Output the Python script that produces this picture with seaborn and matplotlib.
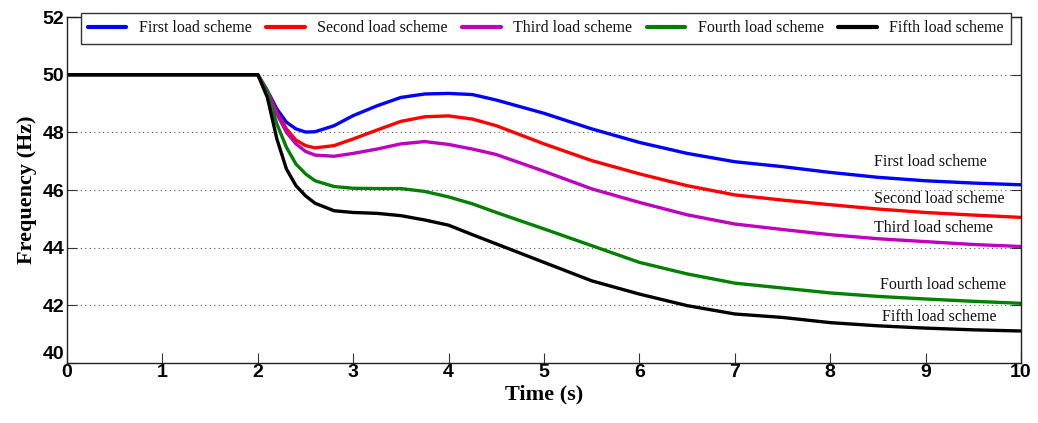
import numpy as np
import pandas as pd
import matplotlib
matplotlib.use("Agg")
import matplotlib.pyplot as plt
import seaborn as sns

# ---- data ----
time_s = [0.0, 2.0, 2.1, 2.2, 2.3, 2.4, 2.5, 2.6, 2.8, 3.0, 3.25, 3.5, 3.75, 4.0,
          4.25, 4.5, 5.0, 5.5, 6.0, 6.5, 7.0, 7.5, 8.0, 8.5, 9.0, 9.5, 10.0]

first_scheme = [50.0, 50.0, 49.45, 48.81, 48.35, 48.12, 48.01, 48.02, 48.23, 48.58, 48.92, 49.21, 49.33, 49.35,
                49.31, 49.12, 48.66, 48.12, 47.65, 47.27, 46.98, 46.81, 46.61, 46.44, 46.32, 46.24, 46.18]
second_scheme = [50.0, 50.0, 49.43, 48.69, 48.12, 47.73, 47.54, 47.46, 47.54, 47.77, 48.08, 48.38, 48.54, 48.57,
                 48.46, 48.23, 47.60, 47.02, 46.56, 46.15, 45.83, 45.65, 45.49, 45.34, 45.22, 45.13, 45.05]
third_scheme = [50.0, 50.0, 49.42, 48.64, 48.00, 47.60, 47.34, 47.21, 47.17, 47.27, 47.42, 47.60, 47.68, 47.58,
                47.42, 47.23, 46.65, 46.04, 45.57, 45.14, 44.82, 44.63, 44.45, 44.31, 44.21, 44.11, 44.04]
fourth_scheme = [50.0, 50.0, 49.39, 48.29, 47.48, 46.90, 46.56, 46.32, 46.12, 46.06, 46.05, 46.05, 45.95, 45.76,
                 45.52, 45.22, 44.65, 44.07, 43.49, 43.09, 42.77, 42.60, 42.43, 42.31, 42.22, 42.14, 42.07]
fifth_scheme = [50.0, 50.0, 49.21, 47.77, 46.73, 46.15, 45.80, 45.54, 45.28, 45.22, 45.19, 45.11, 44.96, 44.78,
                44.45, 44.13, 43.49, 42.85, 42.39, 41.99, 41.70, 41.58, 41.40, 41.29, 41.21, 41.15, 41.11]

scheme_names = ["First load scheme", "Second load scheme", "Third load scheme",
                "Fourth load scheme", "Fifth load scheme"]
scheme_colors = ["#0000FF", "#FF0000", "#BF00BF", "#008000", "#000000"]

y_ticks = [40, 42, 44, 46, 48, 50, 52]
x_ticks = [0, 1, 2, 3, 4, 5, 6, 7, 8, 9, 10]

# ---- build long-form table ----
series = [first_scheme, second_scheme, third_scheme, fourth_scheme, fifth_scheme]
frames = []
for name, vals in zip(scheme_names, series):
    frames.append(pd.DataFrame({"Time": time_s, "Frequency": vals, "Scheme": name}))
df = pd.concat(frames, ignore_index=True)

sns.set_style("white")
plt.rcParams["font.family"] = ["Liberation Serif", "DejaVu Serif"]
plt.rcParams["text.color"] = "black"
plt.rcParams["axes.labelcolor"] = "black"
plt.rcParams["xtick.color"] = "black"
plt.rcParams["ytick.color"] = "black"

fig = plt.figure(figsize=(10.38, 4.23), dpi=100)
ax = fig.add_axes([67 / 1038, 1 - 363 / 423, (1021 - 67) / 1038, (363 - 17) / 423])

sns.lineplot(data=df, x="Time", y="Frequency", hue="Scheme", hue_order=scheme_names,
             palette=dict(zip(scheme_names, scheme_colors)), linewidth=2.4, sort=False,
             estimator=None, ax=ax, legend=True)

ax.set_xlim(0, 10)
ax.set_ylim(40, 52)
ax.set_xticks(x_ticks)
ax.set_yticks(y_ticks)
tick_font = dict(family=["Liberation Sans", "DejaVu Sans"], weight="bold", size=14, color="black")
ax.set_xticklabels([str(v) for v in x_ticks], fontdict=tick_font)
ax.set_yticklabels([str(v) for v in y_ticks], fontdict=tick_font)
# lift the lowest y label so it sits above the x "0" like the reference
ylabs = ax.get_yticklabels()
ylabs[0].set_verticalalignment("bottom")
ax.tick_params(axis="both", direction="in", length=7, width=0.8, color="#333333",
               top=False, right=True, left=True, bottom=True)
ax.tick_params(axis="x", pad=1)
ax.tick_params(axis="y", pad=2)

for sp in ax.spines.values():
    sp.set_visible(True)
    sp.set_color("#222222")
    sp.set_linewidth(1.0)

ax.yaxis.grid(True, linestyle=(0, (1, 3)), color="#555555", linewidth=0.8)
ax.xaxis.grid(False)

ax.set_xlabel("Time (s)", fontsize=16, fontweight="bold", labelpad=2, color="black")
ax.set_ylabel("Frequency (Hz)", fontsize=16, fontweight="bold", labelpad=4, color="black")

# right-side annotations
ann = [(8.46, 46.98), (8.46, 45.70), (8.46, 44.67), (8.52, 42.69), (8.54, 41.60)]
for name, (tx, ty) in zip(scheme_names, ann):
    ax.text(tx, ty, name, fontsize=11.5, ha="left", va="center", color="#111111")

handles, labels = ax.get_legend_handles_labels()
leg = ax.legend(handles, labels, loc="upper center", bbox_to_anchor=(0.502, 1.011), ncol=5,
                frameon=True, fancybox=False, edgecolor="#333333", fontsize=11.5,
                handlelength=2.4, handletextpad=0.8, columnspacing=0.9, borderpad=0.45,
                borderaxespad=0, labelcolor="#111111")
leg.get_frame().set_linewidth(1.0)
leg.get_frame().set_alpha(1)
for line in leg.get_lines():
    line.set_linewidth(3)

fig.savefig("out.png", dpi=100)
